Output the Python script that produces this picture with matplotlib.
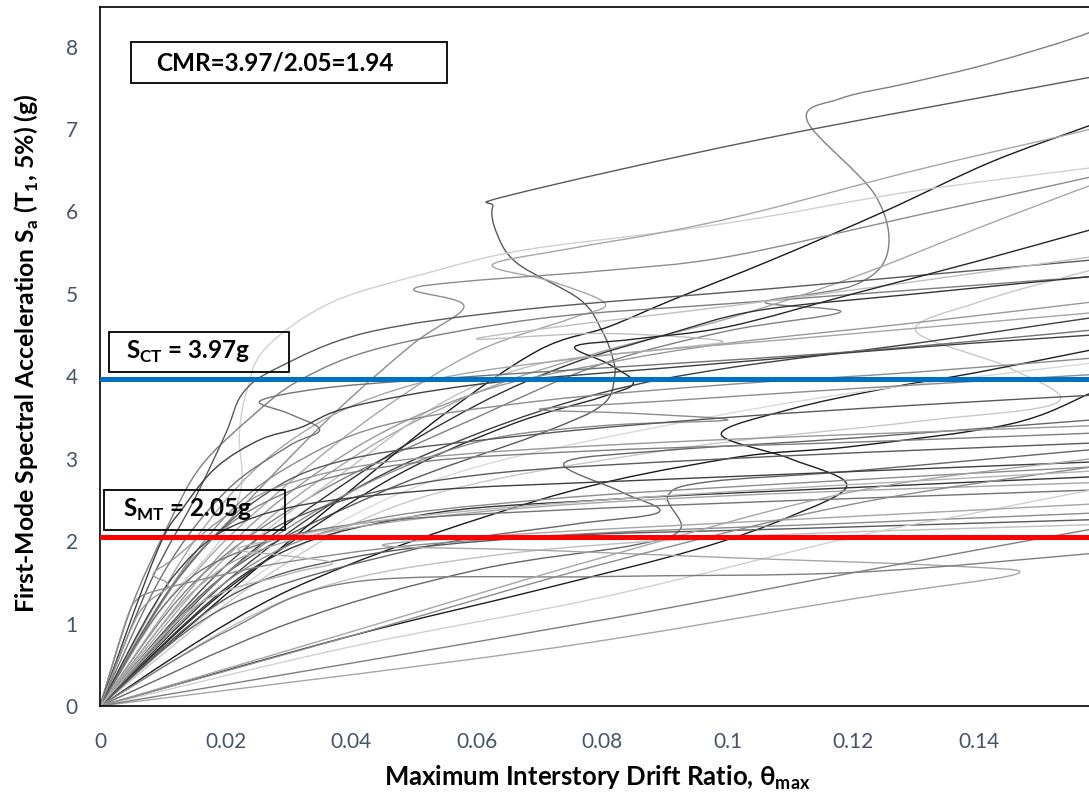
import numpy as np
import matplotlib
matplotlib.use('Agg')
import matplotlib.pyplot as plt
from matplotlib.path import Path
from matplotlib.patches import PathPatch, Rectangle

# IDA curves, one list of (drift, Sa) points per record
gm01 = [(0, 0), (0.015, 1.5), (0.035, 2.6), (0.06, 3.5), (0.08, 4.15), (0.1, 4.55), (0.118, 4.78), (0.106, 4.9), (0.12, 5.1), (0.1255, 5.5), (0.1235, 6.2), (0.1127, 7.1), (0.118, 7.37), (0.129, 7.56), (0.142, 7.8), (0.158, 8.18), (0.165, 8.5)]
gm02 = [(0, 0), (0.02, 1.6), (0.045, 2.6), (0.07, 3.3), (0.08, 3.65), (0.082, 4.0), (0.0816, 4.25), (0.080, 4.55), (0.0765, 4.93), (0.0665, 5.37), (0.0632, 5.74), (0.0626, 6.06), (0.0655, 6.2), (0.105, 6.87), (0.158, 7.63), (0.165, 7.73)]
gm03 = [(0, 0), (0.02, 1.35), (0.04, 2.62), (0.055, 3.55), (0.07, 4.32), (0.081, 4.6), (0.0913, 4.93), (0.107, 5.41), (0.125, 6.0), (0.142, 6.6), (0.158, 7.05), (0.165, 7.25)]
gm04 = [(0, 0), (0.01, 1.2), (0.019, 2.0), (0.0225, 2.65), (0.0222, 3.3), (0.0235, 3.85), (0.0265, 4.35), (0.037, 4.9), (0.053, 5.27), (0.0674, 5.53), (0.09, 5.75), (0.105, 5.92), (0.13, 6.25), (0.158, 6.53), (0.165, 6.6)]
gm05 = [(0, 0), (0.015, 1.6), (0.03, 2.7), (0.045, 3.6), (0.06, 4.3), (0.075, 4.7), (0.0805, 4.88), (0.072, 5.15), (0.0625, 5.35), (0.075, 5.55), (0.09, 5.75), (0.105, 6.0), (0.13, 6.5), (0.158, 7.0), (0.165, 7.15)]
gm06 = [(0, 0), (0.012, 1.5), (0.025, 2.6), (0.038, 3.6), (0.05, 4.4), (0.058, 4.85), (0.05, 5.05), (0.058, 5.15), (0.08, 5.28), (0.1, 5.45), (0.13, 5.95), (0.158, 6.42), (0.165, 6.55)]
gm07 = [(0, 0), (0.02, 1.8), (0.04, 3.0), (0.06, 3.8), (0.08, 4.3), (0.1, 4.7), (0.12, 5.2), (0.14, 5.8), (0.158, 6.32), (0.165, 6.5)]
gm08 = [(0, 0), (0.005, 1.2), (0.0107, 2.17), (0.016, 2.9), (0.024, 3.5), (0.032, 3.96), (0.045, 4.35), (0.07, 4.7), (0.1, 4.88), (0.13, 5.05), (0.158, 5.21), (0.165, 5.25)]
gm09 = [(0, 0), (0.008, 1.5), (0.015, 2.5), (0.02, 3.3), (0.0228, 3.8), (0.0285, 4.11), (0.0425, 4.53), (0.0675, 4.81), (0.105, 5.05), (0.13, 5.22), (0.158, 5.41), (0.165, 5.46)]
gm10 = [(0, 0), (0.02, 1.7), (0.04, 2.9), (0.055, 3.7), (0.07, 4.15), (0.09, 4.33), (0.099, 4.43), (0.08, 4.52), (0.06, 4.45), (0.075, 4.62), (0.1, 4.85), (0.13, 5.15), (0.158, 5.45), (0.165, 5.52)]
gm11 = [(0, 0), (0.02, 1.4), (0.045, 2.7), (0.065, 3.4), (0.08, 3.75), (0.085, 3.92), (0.081, 4.15), (0.0757, 4.36), (0.085, 4.45), (0.1, 4.6), (0.12, 5.0), (0.14, 5.4), (0.158, 5.78), (0.165, 5.92)]
gm12 = [(0, 0), (0.025, 1.5), (0.05, 2.5), (0.09, 3.1), (0.13, 3.45), (0.1525, 3.68), (0.145, 4.1), (0.13, 4.55), (0.14, 4.9), (0.158, 5.29), (0.165, 5.42)]
gm13 = [(0, 0), (0.02, 1.6), (0.04, 2.75), (0.06, 3.65), (0.075, 4.15), (0.09, 4.5), (0.105, 4.8), (0.13, 5.0), (0.158, 5.21), (0.165, 5.26)]
gm14 = [(0, 0), (0.02, 1.9), (0.04, 3.1), (0.06, 3.8), (0.08, 4.15), (0.1, 4.4), (0.13, 4.65), (0.158, 4.9), (0.165, 4.96)]
gm15 = [(0, 0), (0.015, 2.0), (0.03, 3.2), (0.05, 3.9), (0.08, 4.25), (0.11, 4.45), (0.158, 4.77), (0.165, 4.82)]
gm16 = [(0, 0), (0.02, 1.5), (0.04, 2.6), (0.06, 3.3), (0.08, 3.8), (0.1, 4.1), (0.13, 4.4), (0.158, 4.71), (0.165, 4.78)]
gm17 = [(0, 0), (0.01, 1.6), (0.02, 2.6), (0.03, 3.15), (0.035, 3.35), (0.03, 3.55), (0.0255, 3.7), (0.035, 3.85), (0.05, 3.95), (0.08, 4.1), (0.12, 4.3), (0.158, 4.56), (0.165, 4.62)]
gm18 = [(0, 0), (0.04, 0.85), (0.07, 1.41), (0.095, 1.9), (0.11, 2.3), (0.119, 2.68), (0.11, 3.0), (0.099, 3.3), (0.11, 3.6), (0.125, 3.85), (0.14, 4.05), (0.158, 4.32), (0.165, 4.42)]
gm19 = [(0, 0), (0.01, 1.3), (0.02, 2.3), (0.03, 2.9), (0.045, 3.4), (0.07, 3.7), (0.1, 3.9), (0.13, 4.05), (0.158, 4.22), (0.165, 4.26)]
gm20 = [(0, 0), (0.02, 1.3), (0.04, 2.3), (0.06, 2.9), (0.09, 3.4), (0.12, 3.8), (0.158, 4.16), (0.165, 4.22)]
gm21 = [(0, 0), (0.02, 1.6), (0.04, 2.6), (0.06, 3.2), (0.08, 3.4), (0.1, 3.47), (0.085, 3.55), (0.07, 3.6), (0.09, 3.7), (0.12, 3.85), (0.158, 4.02), (0.165, 4.05)]
gm22 = [(0, 0), (0.03, 1.4), (0.07, 2.5), (0.1, 3.0), (0.12, 3.15), (0.145, 3.42), (0.158, 3.8), (0.165, 4.05)]
gm23 = [(0, 0), (0.012, 1.5), (0.025, 2.5), (0.04, 3.0), (0.07, 3.3), (0.1, 3.5), (0.13, 3.65), (0.158, 3.77), (0.165, 3.8)]
gm24 = [(0, 0), (0.02, 1.2), (0.05, 1.9), (0.075, 2.2), (0.089, 2.35), (0.083, 2.6), (0.074, 2.95), (0.09, 3.1), (0.12, 3.25), (0.158, 3.47), (0.165, 3.5)]
gm25 = [(0, 0), (0.015, 1.8), (0.03, 2.6), (0.05, 2.95), (0.08, 3.1), (0.12, 3.2), (0.158, 3.31), (0.165, 3.33)]
gm26 = [(0, 0), (0.02, 1.7), (0.035, 2.4), (0.06, 2.8), (0.1, 3.0), (0.158, 3.19), (0.165, 3.21)]
gm27 = [(0, 0), (0.03, 1.0), (0.06, 1.65), (0.085, 1.95), (0.0925, 2.15), (0.0905, 2.55), (0.097, 2.72), (0.12, 2.85), (0.158, 3.11), (0.165, 3.15)]
gm28 = [(0, 0), (0.012, 1.6), (0.025, 2.3), (0.05, 2.6), (0.09, 2.75), (0.158, 2.96), (0.165, 2.98)]
gm29 = [(0, 0), (0.02, 1.5), (0.04, 2.2), (0.07, 2.5), (0.11, 2.7), (0.158, 2.9), (0.165, 2.93)]
gm30 = [(0, 0), (0.025, 1.7), (0.05, 2.3), (0.08, 2.5), (0.12, 2.65), (0.158, 2.78), (0.165, 2.8)]
gm31 = [(0, 0), (0.015, 1.4), (0.03, 2.0), (0.06, 2.35), (0.1, 2.55), (0.158, 2.71), (0.165, 2.73)]
gm32 = [(0, 0), (0.01, 1.2), (0.02, 1.8), (0.04, 2.2), (0.08, 2.4), (0.158, 2.62), (0.165, 2.64)]
gm33 = [(0, 0), (0.004, 1.0), (0.006, 1.3), (0.01, 1.42), (0.02, 1.6), (0.03, 1.75), (0.05, 1.95), (0.08, 2.1), (0.12, 2.22), (0.158, 2.34), (0.165, 2.36)]
gm34 = [(0, 0), (0.02, 1.3), (0.04, 1.8), (0.07, 2.05), (0.11, 2.15), (0.158, 2.26), (0.165, 2.28)]
gm35 = [(0, 0), (0.03, 1.3), (0.06, 1.8), (0.1, 2.05), (0.158, 2.2), (0.165, 2.22)]
gm36 = [(0, 0), (0.04, 0.72), (0.08, 1.32), (0.12, 2.05), (0.14, 2.35), (0.158, 2.62), (0.165, 2.7)]
gm37 = [(0, 0), (0.07, 0.68), (0.12, 1.3), (0.146, 1.6), (0.135, 1.7), (0.1, 1.8), (0.07, 1.89), (0.045, 1.95), (0.07, 2.1), (0.12, 2.3), (0.158, 2.45), (0.165, 2.48)]
gm38 = [(0, 0), (0.0797, 1.04), (0.1195, 1.61), (0.1576, 2.14), (0.165, 2.24)]
gm39 = [(0, 0), (0.02, 0.9), (0.04, 1.5), (0.08, 1.57), (0.12, 1.62), (0.158, 1.85), (0.165, 1.9)]
gm40 = [(0, 0), (0.04, 0.9), (0.08, 1.8), (0.12, 2.6), (0.158, 3.0), (0.165, 3.05)]
gm41 = [(0, 0), (0.04, 0.85), (0.08, 1.72), (0.12, 2.45), (0.158, 2.9), (0.165, 2.95)]
gm42 = [(0, 0), (0.009, 1.86), (0.0133, 2.41), (0.0186, 2.9), (0.0255, 3.23), (0.032, 3.38), (0.04, 3.63), (0.06, 3.9), (0.09, 4.1), (0.13, 4.35), (0.158, 4.5), (0.165, 4.53)]
gm43 = [(0, 0), (0.006, 1.1), (0.0108, 1.45), (0.0085, 1.6), (0.012, 1.8), (0.02, 2.3), (0.03, 2.7), (0.05, 3.0), (0.09, 3.2), (0.158, 3.4), (0.165, 3.42)]
gm44 = [(0, 0), (0.015, 1.2), (0.03, 1.6), (0.037, 1.73), (0.03, 1.82), (0.022, 1.9), (0.03, 2.05), (0.05, 2.3), (0.09, 2.55), (0.158, 2.85), (0.165, 2.88)]

records = [gm01, gm02, gm03, gm04, gm05, gm06, gm07, gm08, gm09, gm10, gm11,
           gm12, gm13, gm14, gm15, gm16, gm17, gm18, gm19, gm20, gm21, gm22,
           gm23, gm24, gm25, gm26, gm27, gm28, gm29, gm30, gm31, gm32, gm33,
           gm34, gm35, gm36, gm37, gm38, gm39, gm40, gm41, gm42, gm43, gm44]

shades = ['#808080', '#595959', '#1a1a1a', '#d0d0d0', '#a6a6a6', '#8c8c8c',
          '#a6a6a6', '#7f7f7f', '#595959', '#bfbfbf', '#262626', '#c8c8c8',
          '#333333', '#999999', '#a6a6a6', '#404040', '#737373', '#1f1f1f',
          '#8c8c8c', '#d9d9d9', '#8c8c8c', '#1a1a1a', '#595959', '#666666',
          '#7f7f7f', '#595959', '#666666', '#404040', '#8c8c8c', '#333333',
          '#a6a6a6', '#737373', '#8c8c8c', '#595959', '#bfbfbf', '#d0d0d0',
          '#a6a6a6', '#7f7f7f', '#7f7f7f', '#a6a6a6', '#8c8c8c', '#404040',
          '#999999', '#b3b3b3']

s_ct = 3.97
s_mt = 2.05
cmr_text = 'CMR=3.97/2.05=1.94'
x_ticks = [0, 0.02, 0.04, 0.06, 0.08, 0.1, 0.12, 0.14]
x_ticklabels = ['0', '0.02', '0.04', '0.06', '0.08', '0.1', '0.12', '0.14']
y_ticks = [0, 1, 2, 3, 4, 5, 6, 7, 8]


def smooth_path(pts):
    # Excel-like smoothed line: Catmull-Rom segments turned into cubic Beziers
    p = np.asarray(pts, float)
    ext = np.vstack([p[0], p, p[-1]])
    verts = [p[0]]
    codes = [Path.MOVETO]
    for i in range(len(p) - 1):
        p0, p1, p2, p3 = ext[i], ext[i + 1], ext[i + 2], ext[i + 3]
        verts += [p1 + (p2 - p0) / 6, p2 - (p3 - p1) / 6, p2]
        codes += [Path.CURVE4] * 3
    return Path(verts, codes)


plt.rcParams['font.family'] = ['Lato', 'DejaVu Sans']
plt.rcParams['mathtext.fontset'] = 'custom'
plt.rcParams['mathtext.rm'] = 'Lato'
plt.rcParams['mathtext.bf'] = 'Lato:bold'

fig = plt.figure(figsize=(10.89, 7.98), dpi=100)
ax = fig.add_axes([100 / 1089, 1 - 706 / 798, 989 / 1089, 699 / 798])

for pts, col in zip(records, shades):
    ax.add_patch(PathPatch(smooth_path(pts), facecolor='none', edgecolor=col,
                           lw=1.0, zorder=2))

ax.axhline(s_ct, color='#0070c0', lw=3.6, zorder=4)
ax.axhline(s_mt, color='#ff0000', lw=3.6, zorder=4)

ax.set_xlim(0, 0.1576)
ax.set_ylim(0, 8.48)
ax.set_xticks(x_ticks)
ax.set_xticklabels(x_ticklabels)
ax.set_yticks(y_ticks)
ax.tick_params(length=0, labelsize=15, labelcolor='#44546a')
ax.tick_params(axis='x', pad=19)
ax.tick_params(axis='y', pad=16)
for side in ['left', 'top', 'bottom']:
    ax.spines[side].set_linewidth(1.2)
    ax.spines[side].set_color('black')
ax.spines['right'].set_visible(False)

ax.set_xlabel(r'Maximum Interstory Drift Ratio, θ$_\mathregular{max}$',
              fontsize=18.5, fontweight='bold')
ax.xaxis.set_label_coords(0.503, -0.103)
ax.xaxis.label.set_va('center')
ax.set_ylabel(r'First-Mode Spectral Acceleration S$_\mathregular{a}$ (T$_\mathregular{1}$, 5%) (g)',
              fontsize=17.8, fontweight='bold')
ax.yaxis.set_label_coords(-0.0736, 0.505)
ax.yaxis.label.set_va('center')

# annotation boxes (axes fraction): frame corner, size, text centre, text
boxes = [((0.0313, 0.8913), 0.3196, 0.0586, 0.177, cmr_text),
         ((0.0091, 0.4778), 0.1820, 0.0572, 0.089, r'S$_\mathregular{CT}$ = 3.97g'),
         ((0.0040, 0.2518), 0.1830, 0.0572, 0.0885, r'S$_\mathregular{MT}$ = 2.05g')]
for (x0, y0), w, h, xc, txt in boxes:
    ax.add_patch(Rectangle((x0, y0), w, h, transform=ax.transAxes,
                           facecolor='none', edgecolor='black', lw=1.3, zorder=5))
    ax.text(xc, y0 + h / 2, txt, transform=ax.transAxes, ha='center',
            va='center', fontsize=17.5, fontweight='bold', zorder=6)

fig.savefig('out.png', dpi=100)
